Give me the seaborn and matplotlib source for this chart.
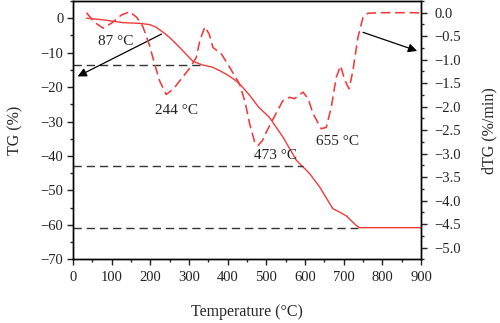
import matplotlib
matplotlib.use("Agg")
import matplotlib.pyplot as plt
from matplotlib.ticker import MultipleLocator
import seaborn as sns
import pandas as pd

# ---- data ----
tg_temp = [35, 80, 130, 175, 200, 216, 232, 250, 276, 310, 336, 360, 379, 400, 423, 440,
           457, 480, 508, 543, 578, 612, 638, 672, 690, 707, 720, 733, 741, 800, 900]
tg_vals = [0, -0.5, -1.3, -1.5, -1.9, -2.7, -4.0, -5.6, -8.5, -12.5, -13.6, -14.2, -15.2,
           -16.5, -18.3, -20.2, -22.4, -25.8, -28.8, -34.5, -41.3, -45.1, -49.0, -55.3,
           -56.3, -57.4, -58.8, -60.2, -60.8, -60.8, -60.8]

dtg_temp = [35, 55, 78, 100, 125, 147, 165, 181, 198, 211, 224, 241, 260, 276, 302, 319, 328,
            341, 352, 362, 384, 405, 431, 445, 457, 470, 478, 490, 500, 522, 543, 560, 573,
            595, 608, 621, 642, 655, 668, 681, 692, 703, 714, 724, 737, 750, 763, 800, 900]
dtg_vals = [0.0, -0.2, -0.33, -0.22, -0.05, 0.02, -0.1, -0.3, -0.70, -1.09, -1.45, -1.74,
            -1.62, -1.45, -1.18, -0.95, -0.59, -0.30, -0.45, -0.74, -0.88, -1.16, -1.52,
            -1.9, -2.37, -2.76, -2.83, -2.72, -2.54, -2.19, -1.87, -1.80, -1.83, -1.69,
            -1.83, -2.15, -2.47, -2.44, -2.01, -1.37, -1.13, -1.44, -1.62, -1.23, -0.52,
            -0.10, -0.01, 0.0, 0.0]

ref_levels = [-13.6, -43.0, -60.9]
ref_ends = [328, 594, 736]

peak_labels = ["87 °C", "244 °C", "473 °C", "655 °C"]
peak_label_x = [110, 267, 525, 683]
peak_label_y = [-6.9, -26.8, -39.8, -35.7]

dtg_ticks = [0.0, -0.5, -1.0, -1.5, -2.0, -2.5, -3.0, -3.5, -4.0, -4.5, -5.0]
dtg_ticklabels = ["0.0", "−0.5", "−1.0", "−1.5", "−2.0", "−2.5", "−3.0", "−3.5",
                  "−4.0", "−4.5", "−5.0"]

# ---- style ----
sns.set_style("ticks")
plt.rcParams['font.family'] = ['Liberation Serif', 'DejaVu Serif']

red = "#f23a3a"

fig = plt.figure(figsize=(5.0, 3.23), dpi=100)
ax = fig.add_axes([0.146, 0.197, 0.696, 0.800])
ax2 = ax.twinx()

df_tg = pd.DataFrame({"T": tg_temp, "TG": tg_vals})
df_dtg = pd.DataFrame({"T": dtg_temp, "dTG": dtg_vals})

sns.lineplot(data=df_tg, x="T", y="TG", ax=ax, color=red, lw=1.0, sort=False)
sns.lineplot(data=df_dtg, x="T", y="dTG", ax=ax2, color=red, lw=1.15, sort=False)
ax2.lines[0].set_dashes([6, 3])

ax.hlines(ref_levels, 0, ref_ends, colors="#333333", linestyles=(0, (6, 3.5)), lw=1.0)

for txt, x, y in zip(peak_labels, peak_label_x, peak_label_y):
    ax.text(x, y, txt, fontsize=11, ha="center", va="center", color="#222222")

ax.annotate("", xy=(12, -16.9), xytext=(229, -4.6),
            arrowprops=dict(arrowstyle="-|>", color="black", lw=0.9, mutation_scale=13,
                            shrinkA=0, shrinkB=0))
ax.annotate("", xy=(890, -9.5), xytext=(750, -4.1),
            arrowprops=dict(arrowstyle="-|>", color="black", lw=0.9, mutation_scale=13,
                            shrinkA=0, shrinkB=0))

ax.set_xlim(0, 900)
ax.set_ylim(-70, 5)
ax2.set_ylim(-5.25, 0.25)

ax.xaxis.set_major_locator(MultipleLocator(100))
ax.xaxis.set_minor_locator(MultipleLocator(50))
ax.yaxis.set_major_locator(MultipleLocator(10))
ax.yaxis.set_minor_locator(MultipleLocator(5))
ax2.set_yticks(dtg_ticks)
ax2.set_yticklabels(dtg_ticklabels)
ax2.yaxis.set_minor_locator(MultipleLocator(0.25))

for a in (ax, ax2):
    a.tick_params(which="major", direction="out", length=4.5, width=1.0, labelsize=10.5,
                  pad=2.5, colors="#222222")
    a.tick_params(which="minor", direction="out", length=2.5, width=1.0)
    for s in a.spines.values():
        s.set_visible(True)
        s.set_linewidth(1.0)
        s.set_color("black")
ax.tick_params(axis="x", pad=4)
ax2.tick_params(axis="y", which="major", pad=5)

ax.set_xlabel("Temperature (°C)", fontsize=11.5, labelpad=14)
ax.set_ylabel("TG (%)", fontsize=11.5, labelpad=12)
ax2.set_ylabel("dTG (%/min)", fontsize=11.5, labelpad=15)

fig.savefig("out.png", dpi=100)
